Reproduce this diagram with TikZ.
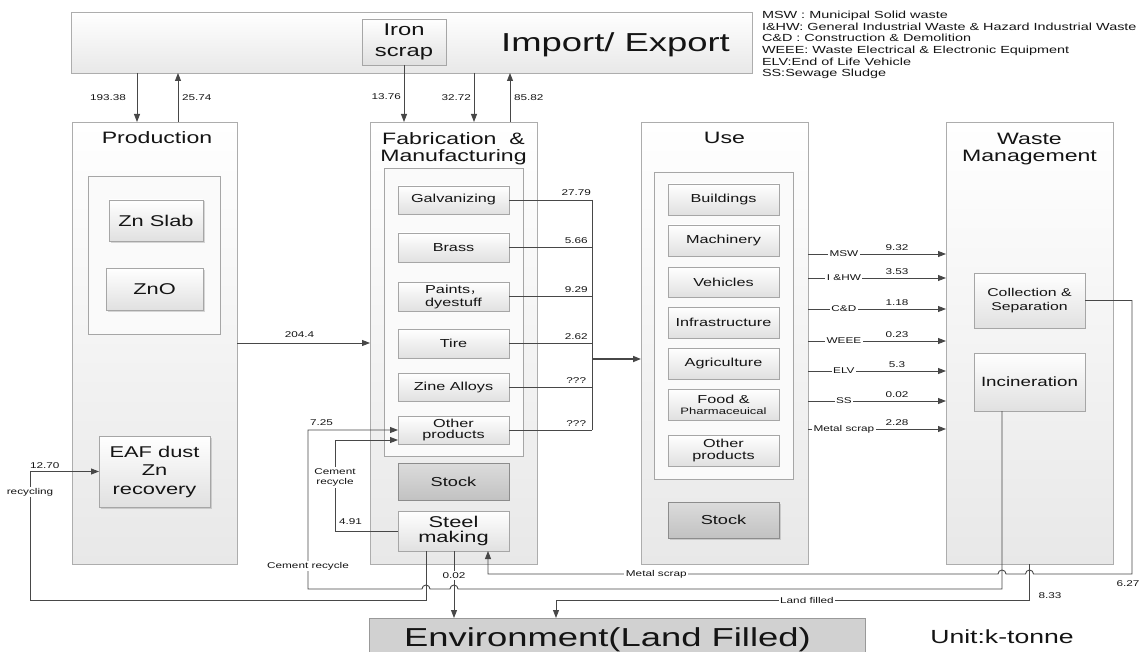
\documentclass[tikz,border=0pt]{standalone}
\usepackage{fontspec}
\setmainfont{Liberation Sans}[FakeStretch=1.4]
\newfontfamily\cjkf{Noto Sans CJK SC}
\usetikzlibrary{arrows.meta,shadows}
\newcommand\myfs[2]{\fontsize{#1}{#2}\selectfont}
\newcommand\mkbox[7]{\node[#1, anchor=north west, minimum width={#4-#2}, minimum height={#5-#3}] (#6) at (#2,#3) {#7};}
\begin{document}
\begin{tikzpicture}[x=1pt,y=-1pt,
  every node/.style={inner sep=0pt, outer sep=0pt, text=black!92},
  conn/.style={draw=black!72, line width=0.9pt},
  arr/.style={-{Triangle[length=8pt,width=6pt]}},
  outer/.style={draw=black!32, line width=0.8pt, top color=white, bottom color=black!9},
  cont/.style={draw=black!35, line width=0.8pt, fill=black!2},
  item/.style={draw=black!35, line width=0.8pt, top color=white, bottom color=black!12, align=center},
  shad/.style={drop shadow={shadow xshift=1.5pt, shadow yshift=-1.5pt, opacity=0.3}},
  stock/.style={draw=black!45, line width=0.8pt, top color=black!14, bottom color=black!24, font=\myfs{13}{15}},
  ttl/.style={font=\myfs{16.5}{17.4}, align=center},
  it/.style={item, font=\myfs{11.6}{12.5}},
  num/.style={font=\myfs{8.4}{10}},
  wl/.style={num, fill=white, inner sep=1.5pt, align=center},
  leg/.style={font=\myfs{10.3}{11.6}, anchor=base west},
]
\useasboundingbox (0,0) rectangle (1147,652);

% ---------- main boxes ----------
\mkbox{outer}{71}{12}{752}{73}{imp}{}
\mkbox{item, font=\myfs{17}{21}}{362}{19}{446}{65}{iron}{Iron\\scrap}
\node[font=\myfs{26}{30}, anchor=base] (impT) at (615.5,52) {Import/ Export};

\mkbox{outer}{72}{122}{237}{564}{prod}{}
\node[ttl, anchor=base] (prodT) at (157,144) {Production};
\mkbox{cont}{88}{176}{220}{334}{prodin}{}
\mkbox{item,shad,font=\myfs{15.6}{18}}{109}{200}{203}{241}{znslab}{Zn Slab}
\mkbox{item,shad,font=\myfs{15.6}{18}}{106}{268}{203}{310}{zno}{ZnO}
\mkbox{item,shad,font=\myfs{15.6}{18.5}}{99}{436}{210}{507}{eaf}{EAF dust\\Zn\\recovery}

\mkbox{outer}{370}{122}{537}{564}{fab}{}
\node[ttl, anchor=north] (fabT) at (453.5,132.5) {Fabrication \ \&\\Manufacturing};
\mkbox{cont}{384}{168}{523}{456}{fabin}{}
\mkbox{it}{398}{186}{509}{214}{galv}{Galvanizing}
\mkbox{it}{398}{233}{509}{262}{brass}{Brass}
\mkbox{it, font=\myfs{11.6}{13}}{398}{282}{509}{311}{paints}{Paints{\cjkf\myfs{11.6}{13}，}\\dyestuff}
\mkbox{it}{398}{329}{509}{358}{tire}{Tire}
\mkbox{it}{398}{373}{509}{401}{zine}{Zine Alloys}
\mkbox{it, font=\myfs{11.6}{11.5}}{398}{416}{509}{444}{fother}{Other\\products}
\mkbox{stock}{398}{463}{509}{500}{fstock}{Stock}
\mkbox{item, font=\myfs{15.6}{15.5}}{398}{511}{509}{551}{steel}{Steel\\making}

\mkbox{outer}{641}{122}{808}{564}{use}{}
\node[ttl, anchor=base] (useT) at (724.5,144) {Use};
\mkbox{cont}{654}{172}{793}{479}{usein}{}
\mkbox{it}{668}{184}{779}{215}{bld}{Buildings}
\mkbox{it}{668}{225}{779}{256}{mach}{Machinery}
\mkbox{it}{668}{267}{779}{297}{veh}{Vehicles}
\mkbox{it}{668}{307}{779}{338}{infra}{Infrastructure}
\mkbox{it}{668}{348}{779}{379}{agri}{Agriculture}
\mkbox{it, font=\myfs{11.6}{11}}{668}{389}{779}{420}{food}{Food \&\\{\myfs{9.3}{11}Pharmaceuical}}
\mkbox{it, font=\myfs{11.6}{11.5}}{668}{435}{779}{466}{uother}{Other\\products}
\mkbox{stock, shad}{668}{502}{779}{538}{ustock}{Stock}

\mkbox{outer}{946}{122}{1113}{564}{waste}{}
\node[ttl, anchor=north] (wasteT) at (1029.5,133) {Waste\\Management};
\mkbox{item, font=\myfs{11.3}{14}}{974}{273}{1085}{328}{coll}{Collection \&\\Separation}
\mkbox{item, font=\myfs{13.4}{15}}{974}{353}{1085}{411}{incin}{Incineration}

\mkbox{draw=black!40, line width=0.8pt, fill=black!18}{369}{618}{865}{662}{env}{}
\node[font=\myfs{26}{30}, anchor=base] (envT) at (607.5,646) {Environment(Land Filled)};
\node[font=\myfs{19}{22}, anchor=base] (unitT) at (1002,643) {Unit:k-tonne};

% ---------- legend ----------
\node[leg] (l1) at (762,18.7) {MSW : Municipal Solid waste};
\node[leg] (l2) at (762,30.3) {I\&HW: General Industrial Waste \& Hazard Industrial Waste};
\node[leg] (l3) at (762,41.9) {C\&D : Construction \& Demolition};
\node[leg] (l4) at (762,53.5) {WEEE: Waste Electrical \& Electronic Equipment};
\node[leg] (l5) at (762,65.1) {ELV:End of Life Vehicle};
\node[leg] (l6) at (762,76.7) {SS:Sewage Sludge};

% ---------- import / export flows ----------
\coordinate (xA) at (137,0);
\coordinate (xB) at (178,0);
\coordinate (xD) at (474,0);
\coordinate (xE) at (510,0);
\draw[conn,arr] (xA |- imp.south) -- (xA |- prod.north) node[num, midway, left=11pt]{193.38};
\draw[conn,arr] (xB |- prod.north) -- (xB |- imp.south) node[num, midway, right=4pt]{25.74};
\draw[conn,arr] (iron.south) -- (iron.south |- fab.north) node[num, pos=0.56, left=3pt]{13.76};
\draw[conn,arr] (xD |- imp.south) -- (xD |- fab.north) node[num, midway, left=3pt]{32.72};
\draw[conn,arr] (xE |- fab.north) -- (xE |- imp.south) node[num, midway, right=4pt]{85.82};

% production -> fabrication
\draw[conn,arr] (prod.east |- 0,343) -- node[num, above=5pt, pos=0.47]{204.4} (fab.west |- 0,343);

% fabrication -> use
\coordinate (colx) at (592,0);
\foreach \nm/\vb in {galv/27.79, brass/5.66, paints/9.29, tire/2.62, zine/???, fother/???}
  \draw[conn] (\nm.east) -- node[num, above=4pt, pos=0.81]{\vb} (\nm.east -| colx);
\draw[conn] (galv.east -| colx) -- (fother.east -| colx);
\draw[conn, line width=1.6pt, arr] (colx |- 0,359) -- (use.west |- 0,359);

% use -> waste management
\foreach \ya/\la/\va in {254/MSW/9.32, 278/{I \&HW}/3.53, 309/{C\&D}/1.18, 341/WEEE/0.23, 371/ELV/5.3, 401/SS/0.02, 429/{Metal scrap}/2.28}
  \draw[conn,arr] (use.east |- 0,\ya) -- node[wl, pos=0.26]{\la} node[num, above=3pt, pos=0.645]{\va} (waste.west |- 0,\ya);

% collection & separation -> metal scrap -> steel making
\draw[conn,arr] (coll.east) -- (1132,0 |- coll.east) -- (1132,574) node[num, below=7pt, xshift=-4pt]{6.27}
  -- (1033.5,574) arc[start angle=0, end angle=-180, radius=4]
  -- (1006,574) arc[start angle=0, end angle=-180, radius=4]
  -- node[wl, pos=0.67]{Metal scrap} (488,574) -- (488,0 |- steel.south);

% incineration -> cement recycle -> other products
\draw[conn,arr] (1002,0 |- incin.south) -- (1002,589)
  -- (458,589) arc[start angle=0, end angle=-180, radius=4]
  -- (430,589) arc[start angle=0, end angle=-180, radius=4]
  -- (308,589) -- node[wl, pos=0.145]{Cement recycle} (308,430)
  node[num, anchor=south west, xshift=2pt, yshift=4pt]{7.25}
  -- (fother.west |- 0,430);

% waste management -> land filled
\draw[conn,arr] (waste.south) -- (waste.south |- 0,600) node[num, anchor=west, xshift=9pt, yshift=4.5pt]{8.33}
  -- node[wl, pos=0.47]{Land filled} (556,600) -- (556,0 |- env.north);

% steel making -> recycling -> EAF dust
\draw[conn,arr] (426,0 |- steel.south) -- (426,600) -- (30,600)
  -- node[wl, pos=0.84]{recycling} (30,0 |- eaf.west)
  node[num, anchor=south west, xshift=0pt, yshift=3pt]{12.70}
  -- (eaf.west);

% steel making -> cement recycle -> other products
\draw[conn,arr] (steel.west) -- (335,0 |- steel.west)
  node[num, anchor=south west, xshift=4pt, yshift=6pt]{4.91}
  -- node[wl, pos=0.59]{Cement\\recycle} (335,440) -- (fother.west |- 0,440);

% steel making -> environment
\draw[conn,arr] (454,0 |- steel.south) -- node[wl, pos=0.36]{0.02} (454,0 |- env.north);

\end{tikzpicture}
\end{document}
